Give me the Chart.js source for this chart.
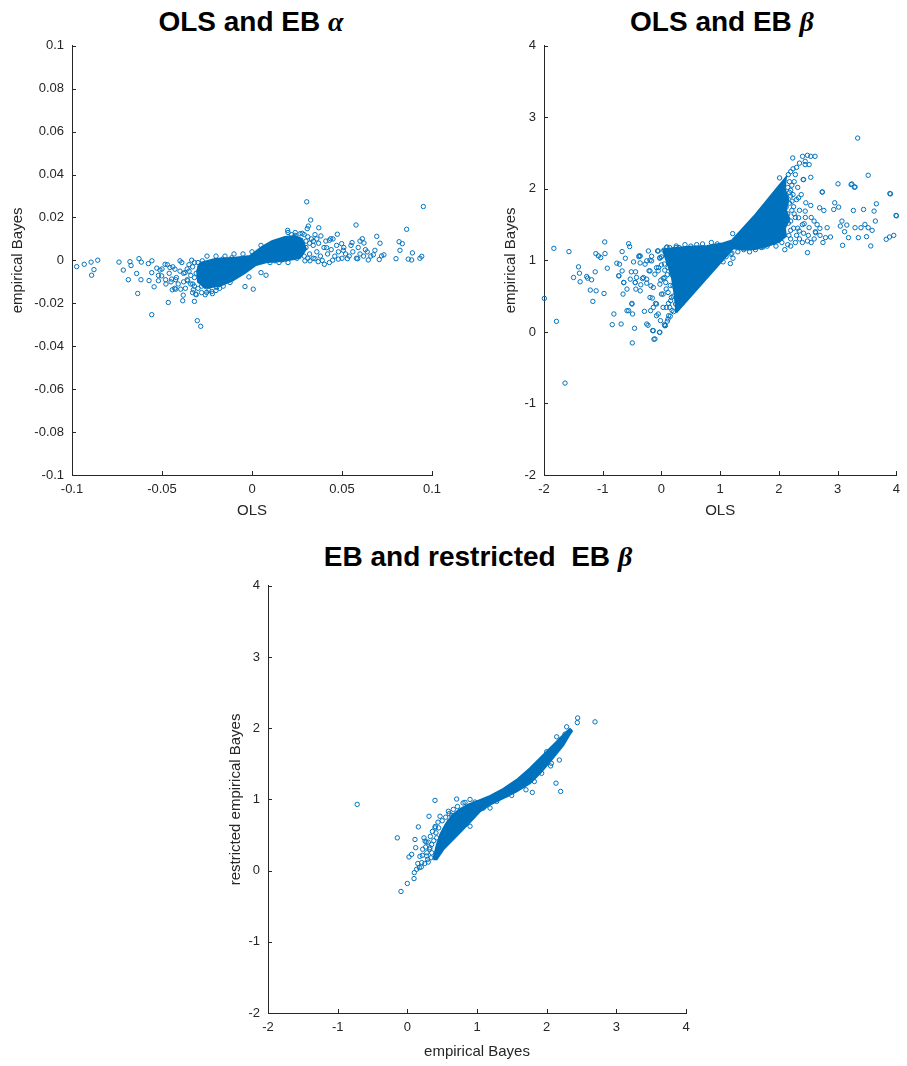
<!DOCTYPE html>
<html>
<head>
<meta charset="utf-8">
<script src="https://cdn.jsdelivr.net/npm/chart.js@4.4.1/dist/chart.umd.min.js"></script>
<style>
    body { margin: 0; background: #fff; width: 907px; height: 1066px; position: relative; overflow: hidden; }
    canvas { position: absolute; }
    .title {
        position: absolute;
        transform: translateX(-50%);
        font: bold 28px 'Liberation Sans', Arial, sans-serif;
        line-height: 32px;
        color: #000;
        white-space: pre;
    }
    .greek { font-family: 'Liberation Serif', 'DejaVu Serif', serif; font-style: italic; }
</style>
</head>
<body>
<div class="title" style="left:251px; top:6px;">OLS and EB <span class="greek">α</span></div>
<div class="title" style="left:722px; top:6px;">OLS and EB <span class="greek">β</span></div>
<div class="title" style="left:478px; top:541px;">EB and restricted  EB <span class="greek">β</span></div>

<canvas id="alphaChart" width="450" height="500" style="left:0; top:30px;"></canvas>
<canvas id="betaChart" width="447" height="500" style="left:460px; top:30px;"></canvas>
<canvas id="restrictedChart" width="560" height="496" style="left:180px; top:570px;"></canvas>

<script>
// 축 눈금
const alphaTicksX = [-0.1, -0.05, 0, 0.05, 0.1];
const alphaTicksY = [-0.1, -0.08, -0.06, -0.04, -0.02, 0, 0.02, 0.04, 0.06, 0.08, 0.1];
const betaTicks = [-2, -1, 0, 1, 2, 3, 4];

// OLS vs EB alpha: 밀집 영역 윤곽 + 흩어진 점
const alphaCore = [
    [-0.0289, -0.0012], [-0.0206, 0.0007], [-0.0094, 0.0012], [-0.0011, 0.0021], [0.0056, 0.0063],
    [0.0111, 0.0090], [0.0183, 0.0109], [0.0239, 0.0114], [0.0278, 0.0100], [0.0300, 0.0053],
    [0.0267, 0.0012], [0.0183, -0.0002], [0.0089, -0.0007], [0.0022, -0.0021], [-0.0039, -0.0058],
    [-0.0111, -0.0095], [-0.0178, -0.0118], [-0.0261, -0.0128], [-0.0300, -0.0100], [-0.0305, -0.0049]
];
const alphaPoints = [
    [-0.0974, -0.0029], [-0.0932, -0.0018], [-0.0894, -0.0008], [-0.0891, -0.0069], [-0.0878, -0.0043], [-0.0857, 0.0001],
    [-0.0739, -0.0008], [-0.0715, -0.0045], [-0.0687, -0.0090], [-0.0678, -0.0006], [-0.0672, -0.0024], [-0.0641, -0.0061],
    [-0.0635, -0.0154], [-0.0628, 0.0008], [-0.0615, -0.0008], [-0.0617, -0.0090], [-0.0576, -0.0015], [-0.0572, -0.0094],
    [-0.0556, -0.0002], [-0.0557, -0.0057], [-0.0557, -0.0253], [-0.0544, -0.0123], [-0.0529, -0.0036], [-0.0511, -0.0045],
    [-0.0520, -0.0095], [-0.0502, -0.0072], [-0.0483, -0.0018], [-0.0478, -0.0110], [-0.0465, -0.0196], [-0.0456, -0.0033],
    [-0.0446, -0.0087], [-0.0443, -0.0137], [-0.0428, -0.0041], [-0.0424, -0.0090], [-0.0424, -0.0134], [-0.0400, -0.0002],
    [-0.0396, -0.0134], [-0.0385, -0.0188], [-0.0382, -0.0162], [-0.0372, -0.0057], [-0.0357, -0.0095], [-0.0335, 0.0001],
    [-0.0329, -0.0110], [-0.0326, -0.0137], [-0.0320, -0.0191], [-0.0313, -0.0157], [-0.0304, -0.0281], [-0.0285, -0.0307],
    [-0.0276, -0.0002], [-0.0252, -0.0149], [-0.0224, -0.0145], [-0.0196, -0.0126], [-0.0163, 0.0006], [-0.0122, -0.0103],
    [-0.0113, 0.0012], [-0.0039, -0.0122], [-0.0017, -0.0077], [0.0007, -0.0134], [0.0050, -0.0057], [0.0078, -0.0069],
    [0.0067, 0.0002], [0.0128, -0.0002], [0.0165, 0.0002], [0.0198, 0.0140], [0.0239, 0.0117], [0.0267, 0.0124],
    [0.0279, 0.0126], [0.0304, 0.0273], [0.0307, 0.0148], [0.0313, 0.0160], [0.0326, 0.0188], [0.0294, -0.0002],
    [0.0322, -0.0002], [0.0341, 0.0090], [0.0350, 0.0008], [0.0368, -0.0006], [0.0371, 0.0152], [0.0383, 0.0114],
    [0.0402, -0.0018], [0.0415, 0.0059], [0.0430, 0.0094], [0.0437, 0.0101], [0.0448, 0.0001], [0.0474, 0.0122],
    [0.0480, 0.0006], [0.0498, 0.0078], [0.0507, 0.0047], [0.0530, 0.0008], [0.0556, 0.0083], [0.0578, 0.0165],
    [0.0587, 0.0008], [0.0600, 0.0090], [0.0613, 0.0101], [0.0622, 0.0081], [0.0646, 0.0002], [0.0674, 0.0026],
    [0.0683, 0.0047], [0.0693, 0.0112], [0.0707, 0.0004], [0.0711, 0.0080], [0.0720, 0.0021], [0.0733, 0.0026],
    [0.0800, 0.0008], [0.0817, 0.0087], [0.0822, 0.0047], [0.0835, 0.0078], [0.0859, 0.0145], [0.0868, 0.0006],
    [0.0887, 0.0002], [0.0891, 0.0035], [0.0933, 0.0010], [0.0943, 0.0019], [0.0952, 0.0251],
    [0.030, 0.006], [0.032, 0.003], [0.034, 0.007], [0.036, 0.004], [0.038, 0.002], [0.040, 0.006], [0.042, 0.003],
    [0.044, 0.005], [0.033, 0.010], [0.035, 0.012], [0.029, 0.002], [0.031, 0.011], [0.046, 0.002], [0.048, 0.004],
    [0.050, 0.001], [0.052, 0.003], [0.054, 0.002], [0.056, 0.004], [0.058, 0.001], [0.060, 0.003], [0.062, 0.002],
    [0.064, 0.004], [0.039, 0.000], [0.037, 0.008], [0.041, 0.009], [0.043, -0.001], [0.047, 0.007], [0.051, 0.006],
    [0.045, 0.010], [0.055, 0.007], [0.059, 0.006], [0.063, 0.005], [0.066, 0.002], [0.027, 0.004], [0.026, 0.008],
    [-0.040, -0.005], [-0.042, -0.008], [-0.038, -0.010], [-0.036, -0.004], [-0.034, -0.007], [-0.032, -0.012],
    [-0.044, -0.003], [-0.046, -0.006], [-0.048, -0.009], [-0.035, -0.002], [-0.037, -0.013], [-0.033, -0.015],
    [-0.031, -0.016], [-0.050, -0.004], [-0.052, -0.007], [-0.039, -0.001], [-0.041, -0.011], [-0.043, -0.013],
    [-0.045, -0.010], [-0.047, -0.002], [-0.030, -0.001], [-0.028, -0.015], [-0.026, -0.016], [-0.024, -0.014],
    [-0.022, -0.0155], [-0.020, -0.014], [-0.018, -0.013], [-0.016, -0.012],
    [-0.032, -0.008], [-0.034, -0.011], [-0.030, -0.013], [-0.028, -0.012], [-0.033, -0.003], [-0.031, -0.006],
    [-0.036, -0.009], [-0.038, -0.006], [-0.027, -0.009], [-0.035, -0.005], [-0.032, -0.001], [-0.029, -0.003],
    [-0.025, 0.002], [-0.020, 0.002], [-0.015, 0.002], [-0.010, 0.003], [-0.005, 0.003], [0.000, 0.004], [0.005, 0.007],
    [0.020, 0.013], [0.022, 0.012], [0.024, 0.013], [0.025, 0.001], [0.020, -0.001], [0.015, -0.001], [0.010, -0.001],
    [0.028, 0.008], [0.030, 0.009], [0.032, 0.008], [0.029, 0.012], [0.031, 0.001], [0.034, 0.001], [0.036, 0.010]
];

// OLS vs EB beta
const betaCore = [
    [0.25, 0.27], [0.24, 0.40], [0.22, 0.55], [0.18, 0.75], [0.12, 0.92], [0.05, 1.08], [0.03, 1.15],
    [0.20, 1.17], [0.45, 1.19], [0.78, 1.20], [1.05, 1.24], [1.20, 1.28], [1.60, 1.64], [2.00, 2.04],
    [2.12, 2.16], [2.10, 2.00], [2.16, 1.85], [2.12, 1.70], [2.18, 1.58], [2.10, 1.45], [2.12, 1.34],
    [2.00, 1.26], [1.80, 1.20], [1.60, 1.16], [1.40, 1.15], [1.22, 1.17]
];
const betaPoints = [
    [-1.994, 0.469], [-1.832, 1.169], [-1.788, 0.148], [-1.642, -0.715], [-1.575, 1.123], [-1.497, 0.761],
    [-1.413, 0.910], [-1.397, 0.821], [-1.385, 0.701], [-1.274, 0.775], [-1.257, 0.752], [-1.190, 0.729],
    [-1.212, 0.585], [-1.168, 0.427], [-1.128, 0.840], [-1.117, 1.095], [-1.112, 0.575], [-1.073, 1.063],
    [-1.034, 1.039], [-0.978, 0.538], [-0.966, 1.258], [-0.961, 1.095], [-0.922, 0.891], [-0.838, 0.102],
    [-0.810, 0.251], [-0.760, 0.961], [-0.715, 0.947], [-0.726, 0.784], [-0.687, 0.111], [-0.670, 1.123],
    [-0.654, 0.529], [-0.642, 0.691], [-0.615, 1.030], [-0.587, 0.297], [-0.559, 1.234], [-0.542, 1.193],
    [-0.531, 0.738], [-0.514, 0.840], [-0.503, 0.399], [-0.497, -0.153], [-0.492, 0.251], [-0.475, 0.979],
    [-0.458, 0.051], [-0.447, 0.691], [-0.441, 0.840], [-0.436, 0.599], [-0.425, 0.761], [-0.385, 1.053],
    [-0.380, 1.063], [-0.363, 0.965], [-0.352, 0.659], [-0.324, 0.747], [-0.291, 0.288], [-0.279, 0.947],
    [-0.251, 0.682], [-0.229, 0.093], [-0.212, 0.854], [-0.196, 1.002], [-0.184, 0.297], [-0.179, 0.645],
    [-0.168, 1.058], [-0.156, 0.473], [-0.151, 0.019], [-0.128, -0.102], [-0.112, 0.807], [-0.101, 0.399],
    [-0.084, 0.227], [-0.067, 1.132], [-0.056, 0.854], [-0.034, -0.005], [-0.028, 1.030], [-0.017, 0.158],
    [-0.011, 0.724], [0.000, 0.937], [0.028, 0.529], [0.039, 1.142], [0.050, 0.102], [0.056, 0.863],
    [0.073, 0.691], [0.084, 0.343], [0.095, 1.188], [0.112, 0.552], [0.123, 0.227], [0.140, 1.179],
    [0.156, 0.436], [0.168, 0.807], [0.196, 0.645], [0.207, 0.283], [0.223, 0.923], [0.240, 0.390], [0.251, 1.179],
    [-0.251, 0.111], [-0.139, 0.018], [-0.027, -0.005], [-0.111, -0.098], [0.057, 0.088], [0.112, 0.181],
    [-0.055, 0.251], [-0.139, 0.343], [-0.195, 0.482], [-0.084, 0.390], [0.000, 0.529], [0.028, 0.343],
    [0.140, 0.343], [0.168, 0.482], [-0.027, 0.668], [-0.139, 0.621], [0.057, 0.760], [-0.084, 0.899],
    [-0.195, 0.853], [-0.251, 0.738], [0.112, 0.899], [0.225, 0.993], [0.140, 1.132], [-0.027, 1.039],
    [-0.168, 0.993], [-0.307, 0.760], [-0.362, 0.575], [-0.446, 0.691], [-0.503, 0.390], [-0.558, 0.297],
    [-0.587, 0.599], [-0.642, 0.691], [-0.670, 0.853], [-0.726, 0.784], [-0.362, 1.062], [-0.251, 0.993],
    [-0.223, 1.132], [-0.055, 1.132], [0.084, 1.178], [0.225, 1.132], [0.251, 1.201], [0.308, 0.621],
    [0.05, 0.95], [0.10, 0.80], [0.15, 0.65], [0.20, 0.50], [0.35, 0.40], [0.12, 0.40], [0.08, 0.60],
    [0.03, 0.75], [-0.05, 0.90], [0.00, 1.05], [0.067, 0.088], [0.18, 0.30], [0.15, 0.22], [0.10, 0.15],
    [1.212, 1.374], [1.184, 1.086], [1.173, 0.956], [1.218, 1.030], [1.508, 1.179], [1.732, 1.188],
    [2.011, 2.153], [2.235, 2.432], [2.402, 2.455], [2.447, 2.385], [2.486, 2.469], [2.542, 2.455],
    [2.615, 2.455], [2.486, 1.109], [2.542, 2.162], [2.413, 2.130], [2.123, 1.745], [2.223, 1.828],
    [2.335, 1.875], [2.458, 1.805], [2.447, 1.689], [2.542, 1.768], [2.335, 1.596], [2.430, 1.513],
    [2.346, 1.411], [2.514, 1.457], [2.598, 1.550], [2.486, 1.271], [2.626, 1.387], [2.698, 1.448],
    [2.737, 1.954], [2.693, 1.735], [2.765, 1.698], [2.821, 1.457], [2.793, 1.318], [2.877, 1.327],
    [2.933, 1.712], [2.950, 1.805], [3.006, 2.070], [3.017, 1.745], [3.045, 1.480], [3.073, 1.550],
    [3.084, 1.211], [3.117, 1.401], [3.156, 1.494], [3.184, 1.318], [3.229, 2.060], [3.268, 1.698],
    [3.285, 2.023], [3.296, 1.457], [3.341, 2.710], [3.352, 1.318], [3.397, 1.457], [3.441, 1.712],
    [3.464, 1.503], [3.492, 1.332], [3.520, 2.190], [3.520, 1.457], [3.564, 1.202], [3.587, 1.420],
    [3.620, 1.689], [3.642, 1.550], [3.659, 1.791], [3.827, 1.295], [3.883, 1.327], [3.899, 1.930],
    [3.955, 1.350], [3.994, 1.629],
    [2.447, 2.339], [2.514, 2.339], [2.420, 2.130], [2.738, 1.958], [3.241, 2.069], [3.296, 2.027],
    [3.888, 1.935], [4.000, 1.623], [2.30, 2.30], [2.35, 2.36], [2.28, 2.20], [2.26, 2.10],
    [2.16, 2.20], [2.20, 2.24], [2.24, 2.28], [2.18, 2.10], [2.22, 2.05], [2.15, 2.02], [2.20, 1.98],
    [2.24, 1.92], [2.18, 1.80], [2.22, 1.70], [2.26, 1.65], [2.16, 1.52], [2.20, 1.42], [2.17, 1.35],
    [2.20, 1.90], [2.25, 1.75], [2.30, 1.85], [2.35, 1.70], [2.40, 1.50], [2.20, 1.55], [2.25, 1.45],
    [2.30, 1.35], [2.15, 1.65], [2.20, 1.30], [2.35, 1.30], [2.40, 1.25], [2.50, 1.35], [2.55, 1.25],
    [2.60, 1.30], [2.65, 1.50], [2.70, 1.35], [2.75, 1.25], [2.45, 1.60], [2.55, 1.60], [2.62, 1.40],
    [2.20, 1.20], [2.28, 1.60], [2.12, 1.80], [2.18, 1.95], [2.32, 2.02], [2.38, 1.92], [2.05, 1.25],
    [2.00, 1.30], [1.95, 1.20], [2.10, 1.15], [1.90, 1.25], [1.80, 1.20], [1.70, 1.18], [1.60, 1.15],
    [1.50, 1.12], [1.40, 1.15], [1.30, 1.12], [1.20, 1.10], [1.10, 1.05], [1.00, 1.00], [1.05, 0.98],
    [1.15, 1.15], [0.95, 1.23], [0.85, 1.25], [0.70, 1.23], [0.60, 1.22], [0.50, 1.20], [0.40, 1.22],
    [0.30, 1.18], [0.20, 1.15], [0.10, 1.10], [2.32, 1.45], [2.28, 1.25], [2.15, 1.22], [2.42, 1.38]
];

// EB vs restricted EB beta
const restrictedCore = [
    [0.373, 0.158], [0.42, 0.35], [0.47, 0.50], [0.55, 0.65], [0.65, 0.78], [0.75, 0.86], [0.88, 0.93],
    [1.04, 0.99], [1.19, 1.05], [1.378, 1.149], [1.569, 1.274], [1.761, 1.437], [1.952, 1.623],
    [2.144, 1.809], [2.287, 1.949], [2.335, 1.986], [2.359, 1.958], [2.239, 1.763], [2.048, 1.530],
    [1.904, 1.367], [1.761, 1.228], [1.569, 1.112], [1.378, 1.019], [1.187, 0.926], [1.043, 0.833],
    [0.900, 0.680], [0.708, 0.490], [0.517, 0.298], [0.421, 0.158]
];
const restrictedPoints = [
    [-0.72, 0.93], [-0.144, 0.460], [-0.091, -0.293], [0.000, -0.181], [0.096, -0.112], [0.110, 0.437],
    [0.120, 0.321], [0.158, 0.614], [0.024, 0.191], [0.062, 0.228], [0.100, -0.028], [0.134, 0.019],
    [0.172, 0.042], [0.206, 0.112], [0.215, 0.214], [0.239, 0.460], [0.254, 0.414], [0.263, 0.330],
    [0.278, 0.205], [0.292, 0.158], [0.311, 0.763], [0.325, 0.321], [0.349, 0.367], [0.397, 0.986],
    [0.397, 0.600], [0.411, 0.530], [0.421, 0.460], [0.435, 0.251], [0.469, 0.763], [0.517, 0.507],
    [0.541, 0.577], [0.589, 0.833], [0.603, 0.693], [0.636, 0.777], [0.708, 1.005], [0.732, 0.693],
    [0.780, 0.763], [0.828, 0.958], [0.900, 0.623], [0.971, 0.963], [1.005, 0.856], [1.139, 0.972],
    [1.187, 0.879], [1.498, 1.056], [1.703, 1.135], [1.794, 1.098], [1.823, 1.251], [1.928, 1.367],
    [2.057, 1.470], [2.067, 1.507], [2.134, 1.228], [2.182, 1.553], [2.201, 1.112], [2.000, 1.670],
    [2.144, 1.716], [2.215, 1.847], [2.263, 1.916], [2.335, 1.958], [2.445, 2.144], [2.440, 2.079],
    [2.287, 2.019], [2.144, 1.879], [1.962, 1.577], [1.856, 1.414], [1.713, 1.260], [1.545, 1.149],
    [1.426, 1.065], [1.282, 0.972], [1.091, 0.879], [2.694, 2.089],
    [0.30, 0.40], [0.33, 0.48], [0.36, 0.55], [0.40, 0.62], [0.44, 0.68], [0.35, 0.25], [0.32, 0.30],
    [0.28, 0.25], [0.25, 0.10], [0.30, 0.12], [0.34, 0.18], [0.38, 0.42], [0.45, 0.60], [0.50, 0.70],
    [0.55, 0.75], [0.60, 0.80], [0.66, 0.86], [0.72, 0.90], [0.80, 0.95], [0.90, 1.00], [0.18, 0.20],
    [0.22, 0.30], [0.27, 0.40], [0.20, 0.05], [0.15, 0.10], [0.45, 0.35]
];

const BLUE = '#0072BD';
const AXIS_COLOR = '#262626';
const FONT = "'Liberation Sans', Arial, sans-serif";

const toXY = p => ({ x: p[0], y: p[1] });
const fmt = v => String(Math.round(v * 1000) / 1000);

// MATLAB 식 안쪽 눈금
const inwardTicks = {
    id: 'inwardTicks',
    afterDraw(chart) {
        const { ctx, chartArea, scales } = chart;
        ctx.save();
        ctx.strokeStyle = AXIS_COLOR;
        ctx.lineWidth = 1;
        ctx.beginPath();
        scales.x.ticks.forEach(t => {
            const px = Math.round(scales.x.getPixelForValue(t.value)) + 0.5;
            ctx.moveTo(px, chartArea.bottom);
            ctx.lineTo(px, chartArea.bottom - 4);
        });
        scales.y.ticks.forEach(t => {
            const py = Math.round(scales.y.getPixelForValue(t.value)) + 0.5;
            ctx.moveTo(chartArea.left, py);
            ctx.lineTo(chartArea.left + 4, py);
        });
        ctx.stroke();
        ctx.restore();
    }
};

function axis(opts) {
    return {
        type: 'linear',
        min: opts.ticks[0],
        max: opts.ticks[opts.ticks.length - 1],
        afterBuildTicks: scale => { scale.ticks = opts.ticks.map(v => ({ value: v })); },
        afterFit: scale => {
            if (opts.width) scale.width = opts.width;
            if (opts.height) scale.height = opts.height;
        },
        grid: { display: false, drawTicks: false },
        border: { display: true, color: AXIS_COLOR, width: 1 },
        ticks: {
            autoSkip: false,
            maxRotation: 0,
            padding: opts.padding,
            color: AXIS_COLOR,
            font: { family: FONT, size: 13 },
            callback: v => fmt(v)
        },
        title: {
            display: true,
            text: opts.title,
            color: AXIS_COLOR,
            font: { family: FONT, size: 15 },
            padding: { top: 4, bottom: 4 }
        }
    };
}

function scatterPlot(id, cfg) {
    new Chart(document.getElementById(id), {
        type: 'scatter',
        data: {
            datasets: [
                {
                    // 밀집된 점 구름
                    data: cfg.core.concat([cfg.core[0]]).map(toXY),
                    showLine: true,
                    fill: 'shape',
                    backgroundColor: BLUE,
                    borderColor: BLUE,
                    borderWidth: 2,
                    pointRadius: 0,
                    tension: 0
                },
                {
                    data: cfg.points.map(toXY),
                    pointStyle: 'circle',
                    pointRadius: 2.2,
                    borderWidth: 1,
                    borderColor: BLUE,
                    backgroundColor: 'rgba(0,0,0,0)',
                    clip: 6
                }
            ]
        },
        options: {
            responsive: false,
            animation: false,
            events: [],
            layout: { padding: cfg.padding },
            plugins: { legend: { display: false }, tooltip: { enabled: false } },
            scales: {
                x: axis({ ticks: cfg.xTicks, title: cfg.xTitle, height: cfg.xHeight, padding: 7 }),
                y: axis({ ticks: cfg.yTicks, title: cfg.yTitle, width: cfg.yWidth, padding: 8 })
            }
        },
        plugins: [inwardTicks]
    });
}

scatterPlot('alphaChart', {
    core: alphaCore, points: alphaPoints,
    xTicks: alphaTicksX, yTicks: alphaTicksY,
    xTitle: 'OLS', yTitle: 'empirical Bayes',
    padding: { left: 5, top: 14, right: 18, bottom: 6 },
    yWidth: 67, xHeight: 49
});

scatterPlot('betaChart', {
    core: betaCore, points: betaPoints,
    xTicks: betaTicks, yTicks: betaTicks,
    xTitle: 'OLS', yTitle: 'empirical Bayes',
    padding: { left: 38, top: 14, right: 5, bottom: 6 },
    yWidth: 46, xHeight: 49
});

scatterPlot('restrictedChart', {
    core: restrictedCore, points: restrictedPoints,
    xTicks: betaTicks, yTicks: betaTicks,
    xTitle: 'empirical Bayes', yTitle: 'restricted empirical Bayes',
    padding: { left: 43, top: 13, right: 54, bottom: 1 },
    yWidth: 45, xHeight: 52
});
</script>
</body>
</html>
